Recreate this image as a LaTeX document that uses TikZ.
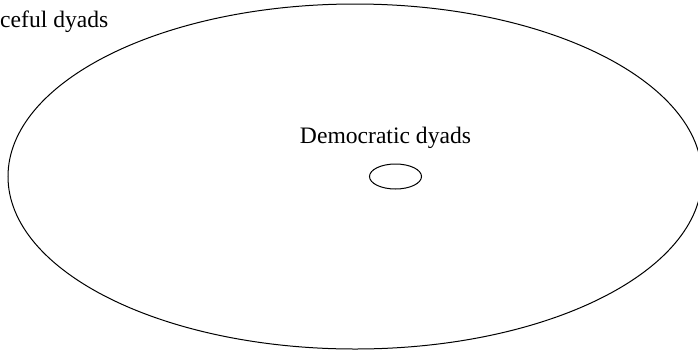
\documentclass[tikz,border=0pt]{standalone}
\usepackage{fontspec}
\setmainfont{Liberation Serif}
\usetikzlibrary{shapes.geometric}
\begin{document}
\begin{tikzpicture}[x=1pt,y=-1pt,
  lbl/.style={font=\fontsize{23.6}{28}\selectfont, inner sep=0pt},
  set/.style={draw=black, line width=1pt, ellipse, inner sep=0pt}]
\useasboundingbox (0,0) rectangle (698,354);
\node[set, minimum width=694pt, minimum height=345pt] (peace) at (355,176.5) {};
\node[set, minimum width=52pt, minimum height=25pt] (demo) at (395.5,176.5) {};
\node[lbl, anchor=base west] (peacelbl) at (0,27) {ceful dyads};
\node[lbl, anchor=base] (demolbl) at (385.5,143) {Democratic dyads};
\end{tikzpicture}
\end{document}
